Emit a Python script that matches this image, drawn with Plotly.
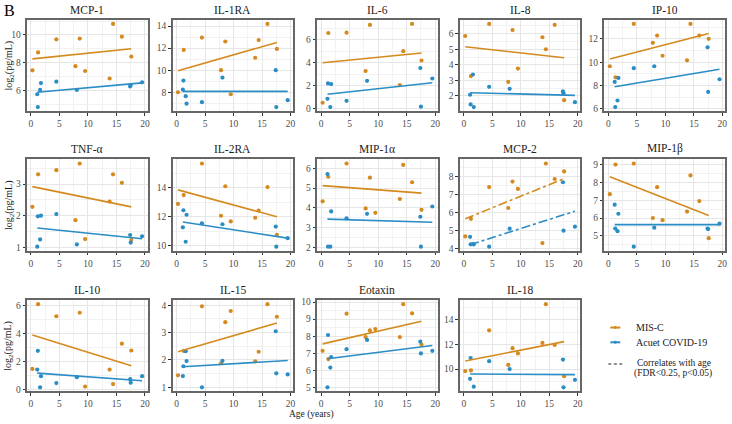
import plotly.graph_objects as go

W, H = 732, 424

cytokines = ["MCP-1", "IL-1RA", "IL-6", "IL-8", "IP-10",
             "TNF-α", "IL-2RA", "MIP-1α", "MCP-2", "MIP-1β",
             "IL-10", "IL-15", "Eotaxin", "IL-18"]

ages_misc = [0.25, 1.25, 4.45, 7.8, 8.55, 9.5, 13.8, 14.4, 15.95, 17.6]
ages_covid = [1.1, 1.2, 1.6, 1.75, 4.45, 8.05, 17.4, 17.5, 19.5]

misc_vals = {
    "MCP-1":   [7.46, 8.75, 9.69, 7.76, 9.74, 7.41, 6.87, 10.8, 9.88, 8.45],
    "IL-1RA":  [8.0, 11.84, 12.96, 10.0, 12.6, 7.82, 11.13, 12.73, 14.2, 11.93],
    "IL-6":    [0.53, 6.57, 6.6, 3.28, 7.27, None, 2.06, 5.0, 7.36, 4.19],
    "IL-8":    [5.85, 3.28, 6.63, 2.9, 6.23, 3.76, 5.77, 5.0, 6.57, 1.73],
    "IP-10":   [9.65, 8.7, 13.28, 11.66, 12.28, 10.55, 10.16, 13.28, 12.28, 12.0],
    "TNF-α":   [2.28, 3.31, 3.44, 1.86, 3.65, 1.26, 2.45, 3.31, 3.04, 1.23],
    "IL-2RA":  [12.89, 13.5, 15.68, 12.07, 14.11, 11.68, 11.93, 12.43, 14.05, 10.75],
    "MIP-1α":  [4.33, 5.58, 6.25, 3.97, 5.53, 3.75, 4.45, 6.18, 5.3, 3.9],
    "MCP-2":   [4.68, 5.66, 7.42, 6.26, 7.73, 7.32, 4.31, 8.73, 7.87, 8.29],
    "MIP-1β":  [7.34, 9.0, 9.06, 6.0, 7.73, 5.88, 6.36, 8.39, 6.95, 4.87],
    "IL-10":   [1.48, 6.09, 5.23, None, 5.48, 0.22, 1.43, 0.4, 3.28, 2.79],
    "IL-15":   [1.44, 2.33, 3.96, 1.88, 3.38, 3.79, 1.95, 2.3, 4.04, 3.58],
    "Eotaxin": [7.14, 6.66, 9.32, 7.95, 8.34, 8.42, 7.95, 9.88, 9.34, 7.51],
    "IL-18":   [9.84, 9.89, 13.15, 10.34, 11.7, 11.27, 12.12, 15.27, 11.96, 9.42],
}

covid_vals = {
    "MCP-1":   [5.74, 4.82, 6.05, 6.54, 6.64, 6.05, 6.3, 6.4, 6.6],
    "IL-1RA":  [8.23, 9.06, 7.64, 6.96, 7.1, 9.33, 10.0, 6.66, 7.28],
    "IL-6":    [0.87, 2.2, 0.16, 2.15, 0.7, 2.43, 3.54, 0.19, 2.63],
    "IL-8":    [2.08, 1.46, 3.38, 1.29, 2.59, 2.46, 2.29, 2.17, 1.6],
    "IP-10":   [8.31, 6.16, 6.72, 8.65, 9.49, 9.65, 11.27, 7.45, 8.54],
    "TNF-α":   [1.02, 1.98, 1.25, 2.0, 2.05, 1.09, 1.39, 1.15, 1.35],
    "IL-2RA":  [11.27, 12.45, 10.27, 12.14, 11.55, 11.48, 11.32, 9.93, 10.52],
    "MIP-1α":  [5.72, 2.03, 2.03, 3.82, 3.47, 3.7, 3.55, 2.03, 4.07],
    "MCP-2":   [4.66, 4.24, 4.25, 4.24, 4.11, 5.11, 7.69, 5.0, 5.22],
    "MIP-1β":  [6.75, 5.41, 5.26, 6.24, 4.39, 5.46, 5.41, 5.38, 5.68],
    "IL-10":   [1.43, 2.77, 0.17, 0.96, 0.47, 0.89, 0.75, 0.5, 0.96],
    "IL-15":   [1.41, 1.77, 2.32, 1.96, 1.0, 1.97, 3.05, 1.51, 1.47],
    "Eotaxin": [5.0, 8.07, 6.16, 6.78, 7.24, 7.78, 7.68, 6.99, 7.14],
    "IL-18":   [9.21, 10.9, None, 8.57, 10.64, 10.0, 10.77, 8.52, 9.13],
}

# fitted line values at the start and end of each group's age range
fit_misc = {
    "MCP-1": (8.28, 9.01), "IL-1RA": (9.95, 12.52), "IL-6": (3.99, 4.84),
    "IL-8": (5.16, 4.45), "IP-10": (10.27, 12.45), "TNF-α": (2.92, 2.28),
    "IL-2RA": (13.86, 12.0), "MIP-1α": (5.13, 4.75), "MCP-2": (5.66, 7.89),
    "MIP-1β": (8.32, 6.14), "IL-10": (3.89, 1.71), "IL-15": (2.3, 3.35),
    "Eotaxin": (7.55, 8.88), "IL-18": (10.66, 12.23),
}
fit_covid = {
    "MCP-1": (5.88, 6.56), "IL-1RA": (8.08, 8.08), "IL-6": (1.27, 2.26),
    "IL-8": (2.21, 2.04), "IP-10": (7.89, 9.4), "TNF-α": (1.61, 1.27),
    "IL-2RA": (11.64, 10.52), "MIP-1α": (3.43, 3.27), "MCP-2": (4.22, 6.08),
    "MIP-1β": (5.63, 5.63), "IL-10": (1.18, 0.64), "IL-15": (1.75, 1.98),
    "Eotaxin": (6.68, 7.45), "IL-18": (9.6, 9.55),
}
correlates = {"MCP-2"}

y_dtick = [2, 2, 2, 1, 2, 1, 2, 1, 1, 1, 2, 1, 1, 2]
x_ticks = [0, 5, 10, 15, 20]

ORANGE = "#D48A1E"
BLUE = "#2A8DC5"
FONT = "'Liberation Serif', 'DejaVu Serif', serif"
GRID = "#E6E6E6"
GRID_MINOR = "#F2F2F2"
BORDER = "#666666"
TICKC = "#4D4D4D"

col_left = [27, 173, 318, 461, 606]
pw = 121
row_top = [17, 159, 302]
ph = 93


def px_x(p):
    return p / W


def px_y(p):
    return 1 - p / H


fig = go.Figure()
annotations = []
shapes = []

all_ages = ages_misc + ages_covid
xmin, xmax = min(all_ages), max(all_ages)
xpad = 0.05 * (xmax - xmin)

for i, name in enumerate(cytokines):
    r, c = divmod(i, 5)
    k = i + 1
    sx = "" if k == 1 else str(k)
    xref, yref = "x" + sx, "y" + sx

    mv = misc_vals[name]
    cv = covid_vals[name]
    mx = [a for a, v in zip(ages_misc, mv) if v is not None]
    cx = [a for a, v in zip(ages_covid, cv) if v is not None]
    dash = "dashdot" if name in correlates else "solid"

    fig.add_trace(go.Scatter(x=ages_misc, y=mv, mode="markers", xaxis=xref, yaxis=yref,
                             marker=dict(color=ORANGE, size=4.2), showlegend=False, hoverinfo="skip"))
    fig.add_trace(go.Scatter(x=ages_covid, y=cv, mode="markers", xaxis=xref, yaxis=yref,
                             marker=dict(color=BLUE, size=4.2), showlegend=False, hoverinfo="skip"))
    fig.add_trace(go.Scatter(x=[min(mx), max(mx)], y=list(fit_misc[name]), mode="lines",
                             xaxis=xref, yaxis=yref, line=dict(color=ORANGE, width=1.6, dash=dash),
                             showlegend=False, hoverinfo="skip"))
    fig.add_trace(go.Scatter(x=[min(cx), max(cx)], y=list(fit_covid[name]), mode="lines",
                             xaxis=xref, yaxis=yref, line=dict(color=BLUE, width=1.6, dash=dash),
                             showlegend=False, hoverinfo="skip"))

    vals = [v for v in mv + cv if v is not None] + list(fit_misc[name]) + list(fit_covid[name])
    ymin, ymax = min(vals), max(vals)
    ypad = 0.05 * (ymax - ymin)

    left = col_left[c]
    top = row_top[r]
    xdom = [px_x(left), px_x(left + pw)]
    ydom = [px_y(top + ph), px_y(top)]
    dt = y_dtick[i]

    common = dict(showline=True, mirror=True, linecolor=BORDER, linewidth=1.8,
                  ticks="outside", ticklen=2.5, tickcolor="#333333", tickwidth=0.8,
                  tickfont=dict(family=FONT, size=9.5, color=TICKC),
                  showgrid=True, gridcolor=GRID, gridwidth=0.8, zeroline=False)
    fig.update_layout(**{
        "xaxis" + sx: dict(domain=xdom, anchor=yref, range=[xmin - xpad, xmax + xpad],
                           tickvals=x_ticks, ticktext=[str(t) for t in x_ticks],
                           minor=dict(dtick=2.5, tick0=0, showgrid=True, gridcolor=GRID_MINOR,
                                      gridwidth=0.5, ticks=""),
                           **common),
        "yaxis" + sx: dict(domain=ydom, anchor=xref, range=[ymin - ypad, ymax + ypad],
                           dtick=dt, tick0=0,
                           minor=dict(dtick=dt / 2, tick0=0, showgrid=True, gridcolor=GRID_MINOR,
                                      gridwidth=0.5, ticks=""),
                           **common),
    })

    annotations.append(dict(text=name, x=px_x(left + pw / 2), y=px_y(top - 2),
                            xref="paper", yref="paper", xanchor="center", yanchor="bottom",
                            showarrow=False, font=dict(family=FONT, size=11.5, color="#222222")))

# row y-axis labels
for top in row_top:
    annotations.append(dict(text="log<sub>2</sub>(pg/mL)", x=px_x(9), y=px_y(top + ph / 2),
                            xref="paper", yref="paper", xanchor="center", yanchor="middle",
                            textangle=-90, showarrow=False,
                            font=dict(family=FONT, size=10, color="#1a1a1a")))

annotations.append(dict(text="Age (years)", x=px_x(312), y=px_y(418), xref="paper", yref="paper",
                        xanchor="center", yanchor="middle", showarrow=False,
                        font=dict(family=FONT, size=9.5, color="#1a1a1a")))
annotations.append(dict(text="B", x=px_x(2), y=px_y(8), xref="paper", yref="paper",
                        xanchor="left", yanchor="middle", showarrow=False,
                        font=dict(family=FONT, size=16, color="#000000")))

# legend
leg_items = [("MIS-C", ORANGE, 330), ("Acuet COVID-19", BLUE, 345)]
for label, col, yy in leg_items:
    shapes.append(dict(type="line", xref="paper", yref="paper", x0=px_x(612), x1=px_x(622),
                       y0=px_y(yy), y1=px_y(yy), line=dict(color=col, width=2)))
    shapes.append(dict(type="circle", xref="paper", yref="paper", x0=px_x(615.5), x1=px_x(618.5),
                       y0=px_y(yy + 1.5), y1=px_y(yy - 1.5), fillcolor=col, line=dict(width=0)))
    annotations.append(dict(text=label, x=px_x(636), y=px_y(yy), xref="paper", yref="paper",
                            xanchor="left", yanchor="middle", showarrow=False,
                            font=dict(family=FONT, size=10, color="#1a1a1a")))
shapes.append(dict(type="line", xref="paper", yref="paper", x0=px_x(610), x1=px_x(624),
                   y0=px_y(367), y1=px_y(367), line=dict(color="#222222", width=1.1, dash="3px,2.5px")))
annotations.append(dict(text="Correlates with age", x=px_x(637), y=px_y(366), xref="paper",
                        yref="paper", xanchor="left", yanchor="middle", showarrow=False,
                        font=dict(family=FONT, size=9.5, color="#1a1a1a")))
annotations.append(dict(text="(FDR<0.25, p<0.05)", x=px_x(634), y=px_y(377), xref="paper",
                        yref="paper", xanchor="left", yanchor="middle", showarrow=False,
                        font=dict(family=FONT, size=9.5, color="#1a1a1a")))

fig.update_layout(width=W, height=H, margin=dict(l=0, r=0, t=0, b=0),
                  paper_bgcolor="#FFFFFF", plot_bgcolor="#FFFFFF",
                  annotations=annotations, shapes=shapes, showlegend=False)

fig.write_html("out.html", config={"displayModeBar": False},
               post_script="document.body.style.margin='0';document.body.style.overflow='hidden';")
